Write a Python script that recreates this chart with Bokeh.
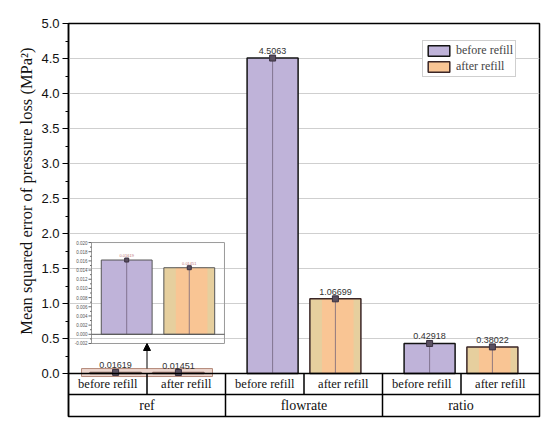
import numpy as np
from bokeh.plotting import figure
from bokeh.models import (Range1d, FixedTicker, ColumnDataSource, Legend, LegendItem,
                          Arrow, NormalHead, PrintfTickFormatter, Title)
from bokeh.core.properties import value
from bokeh.embed import file_html
from bokeh.resources import INLINE

# ---------------- data ----------------
groups = ["ref", "flowrate", "ratio"]
conditions = ["before refill", "after refill"]
before_refill = [0.01619, 4.5063, 0.42918]
after_refill = [0.01451, 1.06699, 0.38022]
y_ticks = [0.0, 0.5, 1.0, 1.5, 2.0, 2.5, 3.0, 3.5, 4.0, 4.5, 5.0]
y_minor_ticks = [0.25, 0.75, 1.25, 1.75, 2.25, 2.75, 3.25, 3.75, 4.25, 4.75]
inset_ticks = [-0.002, 0.000, 0.002, 0.004, 0.006, 0.008, 0.010, 0.012, 0.014, 0.016, 0.018, 0.020]
inset_tick_labels = ["-0.002", "0.000", "0.002", "0.004", "0.006", "0.008", "0.010",
                     "0.012", "0.014", "0.016", "0.018", "0.020"]
inset_minor_ticks = [-0.001, 0.001, 0.003, 0.005, 0.007, 0.009, 0.011, 0.013, 0.015, 0.017, 0.019]
y_label = "Mean squared error of pressure loss (MPa²)"

# ---------------- style ----------------
LAV = "#bfb3d9"
ORANGE = "#f9c594"
BEIGE = "#e6cf9e"
SERIF = "Liberation Serif"
SANS = "Liberation Sans"
BAR_W = 0.65
OFF = 0.4
Y_ROW = -0.30
Y_BOT = -0.614

n = len(groups)
gc = np.arange(n) * 2 + 1.0
xb = gc - OFF
xa = gc + OFF

p = figure(frame_width=471, frame_height=393, min_border_left=68, min_border_top=23,
           min_border_right=3, min_border_bottom=2,
           x_range=Range1d(0, 2 * n), y_range=Range1d(Y_BOT, 5.0),
           output_backend="svg", toolbar_location=None, background_fill_color="white")
p.xaxis.visible = False
p.xgrid.visible = False
p.outline_line_color = "black"
p.outline_line_width = 1.5
p.outline_line_alpha = 1.0

tick = FixedTicker(ticks=y_ticks, minor_ticks=y_minor_ticks)
p.yaxis.ticker = tick
p.yaxis.formatter = PrintfTickFormatter(format="%.1f")
p.ygrid.ticker = FixedTicker(ticks=y_ticks[1:-1])
p.ygrid.grid_line_color = "#cfcfcf"
p.ygrid.grid_line_width = 1
yax = p.yaxis[0]
yax.axis_line_color = "black"
yax.axis_line_width = 1.5
yax.major_tick_out = 6
yax.major_tick_in = 0
yax.minor_tick_out = 3
yax.minor_tick_in = 0
yax.major_tick_line_color = "black"
yax.minor_tick_line_color = "black"
yax.major_label_standoff = 3
yax.major_label_text_font = SANS
yax.major_label_text_font_size = "13px"
yax.major_label_text_color = "#111111"

p.add_layout(Title(text=y_label, align="right", offset=24, standoff=6,
                   text_font=SERIF, text_font_size="16.5px", text_font_style="normal",
                   text_color="#111111"), "left")

# ---------------- main bars ----------------
src_b = ColumnDataSource(dict(x=xb, top=before_refill, label=[str(v) for v in before_refill]))
src_a = ColumnDataSource(dict(x=xa, xin=xa + 0.03, top=after_refill,
                              label=[str(v) for v in after_refill]))

r_b = p.vbar(x="x", top="top", bottom=0, width=BAR_W, source=src_b,
             fill_color=LAV, line_color="#141414", line_width=1.5)
p.vbar(x="x", top="top", bottom=0, width=BAR_W, source=src_a,
       fill_color=BEIGE, line_color=None)
r_a_in = p.vbar(x="xin", top="top", bottom=0, width=BAR_W * 0.62, source=src_a,
                fill_color=ORANGE, line_color=None)
r_a_out = p.vbar(x="x", top="top", bottom=0, width=BAR_W, source=src_a,
                 fill_color=None, line_color="#3b2626", line_width=1.5)

for src in (src_b, src_a):
    p.segment(x0="x", y0=0, x1="x", y1="top", source=src,
              line_color="#6e5f78", line_alpha=0.75, line_width=1)

# highlight box around the tiny "ref" bars
p.quad(left=gc[0] - 0.834, right=gc[0] + 0.834, bottom=-0.043, top=0.071,
       fill_color="#dcae9e", fill_alpha=0.5, line_color="#b48a7a", line_width=1)

for src in (src_b, src_a):
    p.scatter(x="x", y="top", source=src, marker="square", size=6,
              fill_color="#5a5060", line_color="#3a3040")
    p.text(x="x", y="top", text="label", source=src, text_font=value(SANS),
           text_font_size="9px", text_align="center", text_baseline="bottom",
           y_offset=-4, text_color="#333333")

# ---------------- category table ----------------
p.segment(x0=[0, 0], y0=[0, Y_ROW], x1=[2 * n, 2 * n], y1=[0, Y_ROW],
          line_color="black", line_width=1.5)
p.segment(x0=gc, y0=0, x1=gc, y1=Y_ROW, line_color="black", line_width=1.5)
p.segment(x0=gc[1:] - 1, y0=0, x1=gc[1:] - 1, y1=Y_BOT, line_color="black", line_width=1.5)

sub_x = np.concatenate([gc - 0.5, gc + 0.5])
sub_lab = [conditions[0]] * n + [conditions[1]] * n
p.text(x=sub_x, y=[Y_ROW / 2] * (2 * n), text=sub_lab, text_font=value(SERIF),
       text_font_size="12.5px", text_align="center", text_baseline="middle", text_color="#111111")
p.text(x=gc, y=[(Y_ROW + Y_BOT) / 2] * n, text=groups, text_font=value(SERIF),
       text_font_size="14px", text_align="center", text_baseline="middle", text_color="#111111")

# ---------------- inset (zoom on "ref") ----------------
ixs = Range1d(0.15, 1.85)
iys = Range1d(-0.002, 0.020)
sub = p.subplot(x_source=ixs, y_source=iys,
                x_target=Range1d(0.293, 1.987), y_target=Range1d(0.429, 1.871))

ib = ColumnDataSource(dict(x=[1.0 - OFF], top=[before_refill[0]], label=[str(before_refill[0])]))
ia = ColumnDataSource(dict(x=[1.0 + OFF], xin=[1.0 + OFF + 0.03], top=[after_refill[0]],
                           label=[str(after_refill[0])]))
sub.vbar(x="x", top="top", bottom=0, width=BAR_W, source=ib,
         fill_color=LAV, line_color="#555555", line_width=1)
sub.vbar(x="x", top="top", bottom=0, width=BAR_W, source=ia, fill_color=BEIGE, line_color=None)
sub.vbar(x="xin", top="top", bottom=0, width=BAR_W * 0.62, source=ia,
         fill_color=ORANGE, line_color=None)
sub.vbar(x="x", top="top", bottom=0, width=BAR_W, source=ia,
         fill_color=None, line_color="#555555", line_width=1)
for src in (ib, ia):
    sub.segment(x0="x", y0=0, x1="x", y1="top", source=src,
                line_color="#6e5f78", line_alpha=0.75, line_width=1)
    sub.scatter(x="x", y="top", source=src, marker="square", size=4,
                fill_color="#5a5060", line_color="#3a3040")
    sub.text(x="x", y="top", text="label", source=src, text_font=value(SANS),
             text_font_size="4px", text_align="center", text_baseline="bottom",
             y_offset=-3, text_color="#c07878")

sub.quad(left=ixs.start, right=ixs.end, bottom=iys.start, top=iys.end,
         fill_color=None, line_color="#9a9a9a", line_width=1)
sub.segment(x0=ixs.start, y0=0, x1=ixs.end, y1=0, line_color="#555555", line_width=1)
sub.ray(x=ixs.start, y=inset_ticks, length=3, length_units="screen", angle=np.pi,
        line_color="#666666", line_width=1)
sub.ray(x=ixs.start, y=inset_minor_ticks, length=1.5, length_units="screen", angle=np.pi,
        line_color="#666666", line_width=1)
sub.text(x=ixs.start, y=inset_ticks, text=inset_tick_labels, x_offset=-4,
         text_font=value(SANS), text_font_size="4.5px", text_align="right",
         text_baseline="middle", text_color="#555555")

p.add_layout(Arrow(end=NormalHead(size=7, fill_color="black", line_color="black"),
                   x_start=gc[0], y_start=0.071, x_end=gc[0], y_end=0.429,
                   line_color="black", line_width=1))

# ---------------- legend ----------------
legend = Legend(items=[LegendItem(label=conditions[0], renderers=[r_b]),
                       LegendItem(label=conditions[1], renderers=[r_a_in, r_a_out])],
                location=(354, 339), label_text_font=SERIF, label_text_font_size="12px",
                glyph_width=27, glyph_height=13, label_standoff=4, padding=2, spacing=1,
                label_height=12, border_line_color="#a0a0a0", border_line_width=1,
                background_fill_color="white", background_fill_alpha=1.0, margin=0)
p.add_layout(legend)

open("out.html", "w").write(file_html(p, INLINE))
